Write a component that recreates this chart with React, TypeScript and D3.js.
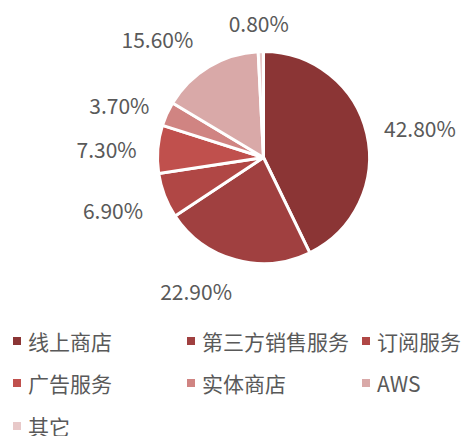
import React from "react";
import * as d3 from "d3";

const categories = ["线上商店", "第三方销售服务", "订阅服务", "广告服务", "实体商店", "AWS", "其它"];
const values = [42.8, 22.9, 6.9, 7.3, 3.7, 15.6, 0.8];
const labels = ["42.80%", "22.90%", "6.90%", "7.30%", "3.70%", "15.60%", "0.80%"];
const colors = ["#8B3535", "#A04040", "#B04745", "#C0504D", "#D08482", "#D9A9A8", "#E8C9C9"];

// label layout tweaks (degrees of rotation from slice middle, distance from centre)
const labelShiftDeg = [2.7, 11.2, 1.2, -2.1, -4.7, -11.2, -0.6];
const labelDist = [159, 151, 160, 157, 153, 158, 133];

const W = 463, H = 436;
const cx = 263.5, cy = 157.5, R = 106;
const FONT = "'Microsoft YaHei', 'Noto Sans CJK SC', sans-serif";
const FS = 21;

export default function App() {
  const pie = d3.pie<number>().sort(null).value((d) => d);
  const arcs = pie(values);
  const arc = d3.arc<d3.PieArcDatum<number>>().innerRadius(0).outerRadius(R);

  const legendCols = [13, 187, 362];
  const legendRows = [341, 383, 426];

  return (
    <svg width={W} height={H} style={{ position: "absolute", left: 0, top: 0, background: "#fff" }}>
      <g transform={`translate(${cx},${cy})`}>
        {arcs.map((a, i) => (
          <path key={i} d={arc(a) || ""} fill={colors[i]} stroke="#fff" strokeWidth={3} strokeLinejoin="round" />
        ))}
      </g>
      {arcs.map((a, i) => {
        const mid = (a.startAngle + a.endAngle) / 2 + (labelShiftDeg[i] * Math.PI) / 180;
        const dx = Math.sin(mid), dy = -Math.cos(mid);
        const d = labelDist[i];
        const x = cx + dx * d, y = cy + dy * d;
        return (
          <text key={i} x={x} y={y + 7.5} textAnchor="middle"
            fontFamily={FONT} fontSize={FS} fill="#595959">{labels[i]}</text>
        );
      })}
      {categories.map((c, i) => {
        const col = i % 3, row = Math.floor(i / 3);
        const x = legendCols[col], y = legendRows[row];
        return (
          <g key={c}>
            <rect x={x} y={y - 4} width={8} height={8} fill={colors[i]} />
            <text x={x + 15} y={y} dominantBaseline="central" fontFamily={FONT} fontSize={FS} fill="#595959">{c}</text>
          </g>
        );
      })}
    </svg>
  );
}
